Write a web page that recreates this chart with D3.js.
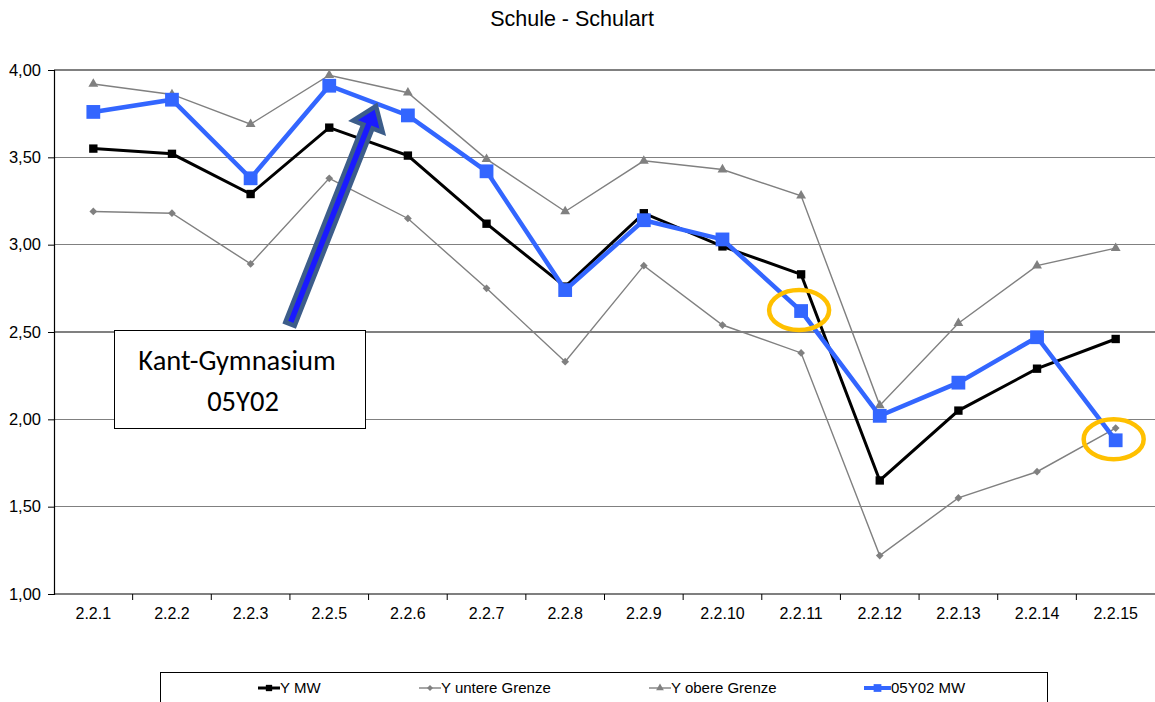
<!DOCTYPE html>
<html>
<head>
<meta charset="utf-8">
<script src="https://cdn.jsdelivr.net/npm/d3@7"></script>
<style>
  html, body { margin: 0; padding: 0; background: #fff; }
  svg { display: block; }
</style>
</head>
<body>
<svg id="chart" width="1155" height="702"></svg>
<script>
const categories = ["2.2.1","2.2.2","2.2.3","2.2.5","2.2.6","2.2.7","2.2.8","2.2.9","2.2.10","2.2.11","2.2.12","2.2.13","2.2.14","2.2.15"];
const yMW     = [3.55, 3.52, 3.29, 3.67, 3.51, 3.12, 2.76, 3.18, 2.99, 2.83, 1.65, 2.05, 2.29, 2.46];
const yUntere = [3.19, 3.18, 2.89, 3.38, 3.15, 2.75, 2.33, 2.88, 2.54, 2.38, 1.22, 1.55, 1.70, 1.95];
const yObere  = [3.92, 3.86, 3.69, 3.97, 3.87, 3.49, 3.19, 3.48, 3.43, 3.28, 2.08, 2.55, 2.88, 2.98];
const school  = [3.76, 3.83, 3.38, 3.91, 3.74, 3.42, 2.74, 3.14, 3.03, 2.62, 2.02, 2.21, 2.47, 1.88];
const yTicks  = [1.0, 1.5, 2.0, 2.5, 3.0, 3.5, 4.0];
const seriesNames = ["Y MW", "Y untere Grenze", "Y obere Grenze", "05Y02 MW"];
const titleText = "Schule - Schulart";
const annotationLines = ["Kant-Gymnasium", "05Y02"];
const highlighted = ["2.2.11", "2.2.15"];

(function () {
const svg = d3.select("#chart");
const mLeft = 54, mRight = 1155, mTop = 70, mBottom = 594;
const sans = "'Liberation Sans', Arial, sans-serif";

const x = d3.scaleBand().domain(categories).range([mLeft, mRight]).padding(0);
const y = d3.scaleLinear().domain([1, 4]).range([mBottom, mTop]);
const cx = c => x(c) + x.bandwidth() / 2;

// Title
svg.append("text").attr("x", 572).attr("y", 26).attr("text-anchor", "middle")
  .attr("font-family", sans).attr("font-size", 21.5)
  .attr("fill", "#000").text(titleText);

// Gridlines
svg.append("g").selectAll("line").data(yTicks.filter(t => t > 1)).join("line")
  .attr("x1", mLeft).attr("x2", mRight).attr("y1", d => y(d)).attr("y2", d => y(d))
  .attr("stroke", "#808080").attr("stroke-width", 1.2).attr("shape-rendering", "crispEdges");

// Y axis
const fmt = d => d3.format(".2f")(d).replace(".", ",");
const yAxis = svg.append("g").attr("transform", `translate(${mLeft},0)`)
  .call(d3.axisLeft(y).tickValues(yTicks).tickFormat(fmt).tickSize(6).tickPadding(7));
yAxis.select(".domain").attr("stroke", "#000").attr("stroke-width", 1.2);
yAxis.selectAll(".tick line").attr("stroke", "#000");
yAxis.selectAll("text").attr("font-family", sans).attr("font-size", 16.5).attr("fill", "#000");

// X axis
const xAxis = svg.append("g").attr("transform", `translate(0,${mBottom})`)
  .call(d3.axisBottom(x).tickSize(0).tickPadding(14));
xAxis.select(".domain").attr("stroke", "#000").attr("stroke-width", 1.2).attr("d", `M${mLeft},0H${mRight}`);
xAxis.selectAll("text").attr("font-family", sans).attr("font-size", 16).attr("fill", "#000");
svg.append("g").selectAll("line").data(categories.slice(1)).join("line")
  .attr("x1", d => x(d)).attr("x2", d => x(d)).attr("y1", mBottom).attr("y2", mBottom + 6)
  .attr("stroke", "#000").attr("stroke-width", 1);

const line = d3.line().x((d, i) => cx(categories[i])).y(d => y(d));

function drawSeries(vals, color, width, marker, msize, rot) {
  const g = svg.append("g");
  g.append("path").datum(vals).attr("d", line).attr("fill", "none")
    .attr("stroke", color).attr("stroke-width", width).attr("stroke-linejoin", "miter");
  g.selectAll("path.m").data(vals).join("path").attr("class", "m")
    .attr("transform", (d, i) => `translate(${cx(categories[i])},${y(d)}) rotate(${rot || 0})`)
    .attr("d", d3.symbol().type(marker).size(msize))
    .attr("fill", color);
}
drawSeries(yUntere, "#808080", 1.4, d3.symbolSquare, 30, 45);
drawSeries(yObere, "#808080", 1.4, d3.symbolTriangle, 42);
drawSeries(yMW, "#000000", 3, d3.symbolSquare, 70);
drawSeries(school, "#3366ff", 4.5, d3.symbolSquare, 190);

// Highlight ellipses
svg.append("g").selectAll("ellipse").data(highlighted).join("ellipse")
  .attr("cx", d => cx(d) - 2)
  .attr("cy", d => y(school[categories.indexOf(d)]) - 1)
  .attr("rx", 30).attr("ry", 20)
  .attr("fill", "none").attr("stroke", "#ffc000").attr("stroke-width", 4.5);

// Arrow
const tail = [290, 324], tip = [376, 106];
const L = Math.hypot(tip[0] - tail[0], tip[1] - tail[1]);
const ang = Math.atan2(tip[1] - tail[1], tip[0] - tail[0]) * 180 / Math.PI;
const hw = 5, HW = 16, hl = 22;
const pts = [[0,-hw],[L-hl,-hw],[L-hl,-HW],[L,0],[L-hl,HW],[L-hl,hw],[0,hw]];
svg.append("polygon").attr("points", pts.map(p => p.join(",")).join(" "))
  .attr("transform", `translate(${tail[0]},${tail[1]}) rotate(${ang})`)
  .attr("fill", "#1a1aff").attr("stroke", "#3c5d8a").attr("stroke-width", 4.5).attr("stroke-linejoin", "miter");

// Annotation box
svg.append("rect").attr("x", 114.5).attr("y", 330.5).attr("width", 251).attr("height", 98)
  .attr("fill", "#fff").attr("stroke", "#000").attr("stroke-width", 1);
svg.append("text").attr("x", 237).attr("y", 370).attr("text-anchor", "middle")
  .attr("font-family", "Carlito, 'Open Sans', sans-serif").attr("font-size", 28.5).attr("fill", "#000")
  .text(annotationLines[0]);
svg.append("text").attr("x", 243).attr("y", 411).attr("text-anchor", "middle")
  .attr("font-family", "Carlito, 'Open Sans', sans-serif").attr("font-size", 28.5).attr("fill", "#000")
  .text(annotationLines[1]);

// Legend
svg.append("rect").attr("x", 160.5).attr("y", 672.5).attr("width", 887).attr("height", 40)
  .attr("fill", "#fff").attr("stroke", "#000").attr("stroke-width", 1);
const legendX = [258, 419, 649, 864];
const legendStyle = [
  {color: "#000", w: 3, sym: d3.symbolSquare, s: 40, len: 22, rot: 0},
  {color: "#808080", w: 1.4, sym: d3.symbolSquare, s: 18, len: 22, rot: 45},
  {color: "#808080", w: 1.4, sym: d3.symbolTriangle, s: 26, len: 22, rot: 0},
  {color: "#3366ff", w: 4, sym: d3.symbolSquare, s: 60, len: 27, rot: 0}
];
const lg = svg.append("g");
seriesNames.forEach((name, i) => {
  const st = legendStyle[i], lx = legendX[i], ly = 688;
  lg.append("line").attr("x1", lx).attr("x2", lx + st.len).attr("y1", ly).attr("y2", ly)
    .attr("stroke", st.color).attr("stroke-width", st.w);
  lg.append("path").attr("transform", `translate(${lx + st.len / 2},${ly}) rotate(${st.rot})`)
    .attr("d", d3.symbol().type(st.sym).size(st.s)).attr("fill", st.color);
  lg.append("text").attr("x", lx + st.len).attr("y", ly + 5)
    .attr("font-family", "'Liberation Sans Narrow', 'Arial Narrow', sans-serif").attr("font-size", 15)
    .attr("fill", "#000").text(name);
});
})();
</script>
</body>
</html>
